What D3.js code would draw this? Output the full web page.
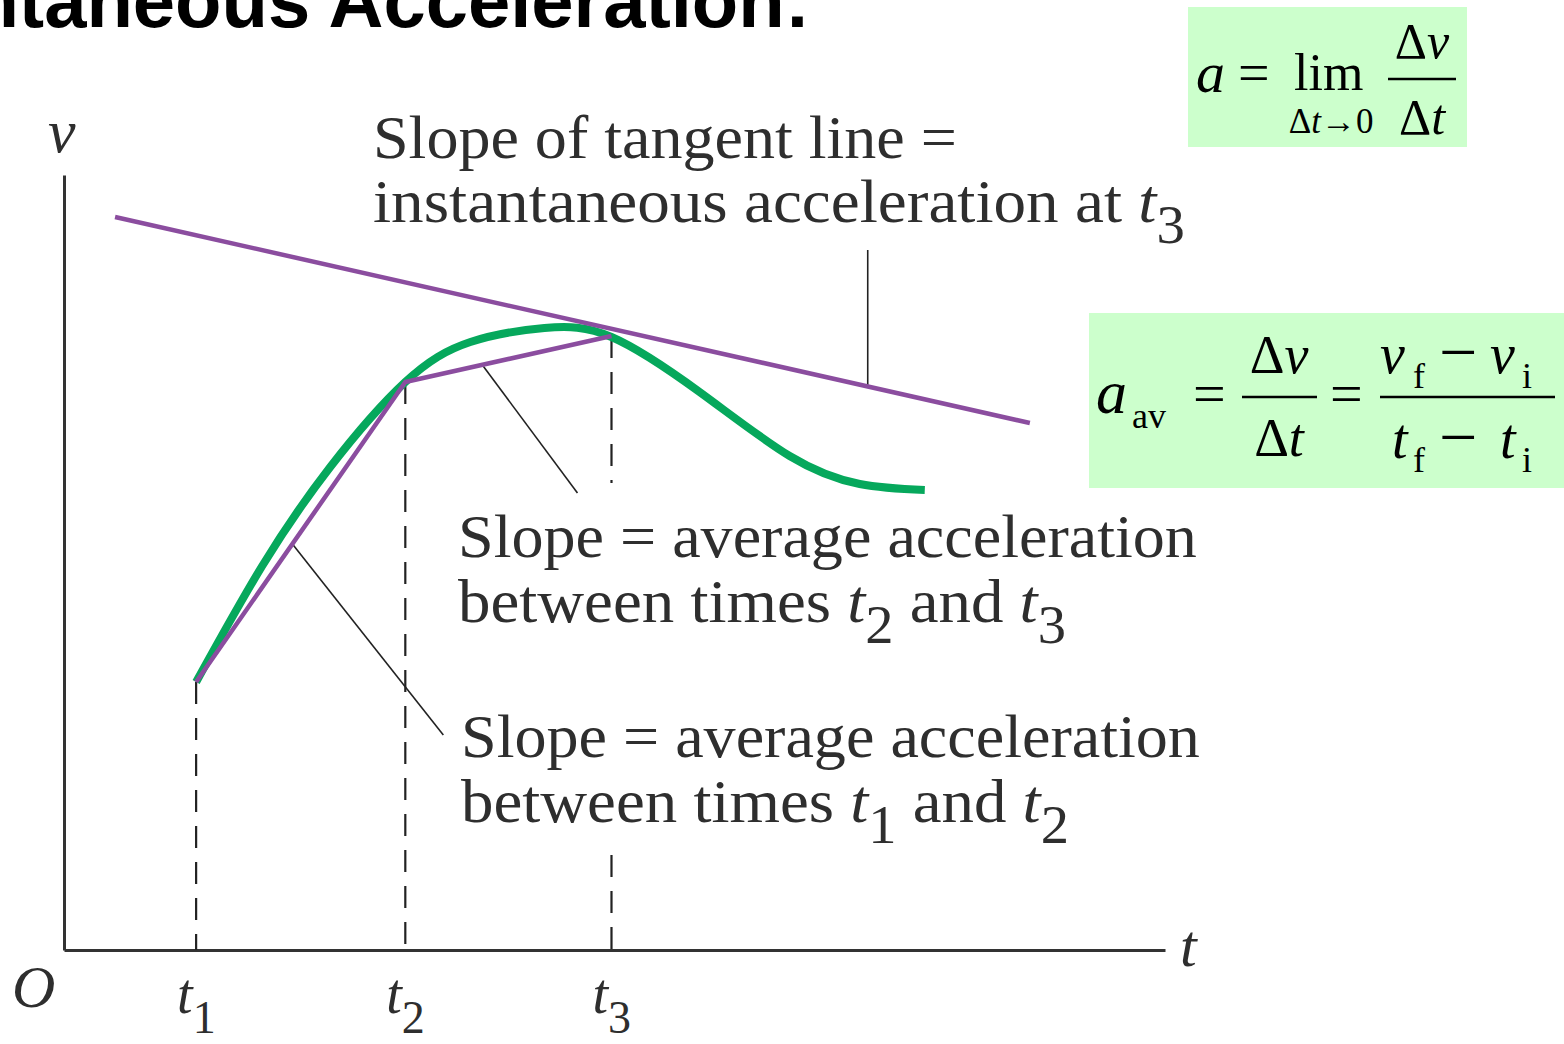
<!DOCTYPE html>
<html lang="en">
<head>
<meta charset="UTF-8">
<title>Instantaneous Acceleration</title>
<script src="https://cdn.jsdelivr.net/npm/d3@7"></script>
<style>
    body{ margin:0; background:#fff; }
    svg{ display:block; }
    .serif{ font-family:"Liberation Serif","Times New Roman",serif; fill:#2e2e2e; }
    .math{ font-family:"Liberation Serif","Times New Roman",serif; fill:#000; }
    .title{ font-family:"Liberation Sans",Arial,sans-serif; font-weight:bold; fill:#000; }
</style>
</head>
<body>
<svg id="canvas" width="1564" height="1044"></svg>
<script>
    // axis ranges (data units)
    let tDomain = [0, 11]
    let vDomain = [0, 7.75]

    // the green v(t) curve
    let curveT = [1.32, 1.98, 2.66, 3.41, 4.06, 4.80, 5.47, 6.35, 7.25, 7.95, 8.60]
    let curveV = [2.68, 3.84, 4.83, 5.68, 6.08, 6.22, 6.13, 5.58, 4.94, 4.66, 4.60]

    // marked times t1, t2, t3 and velocity there
    let markT = [1.32, 3.41, 5.47]
    let markV = [2.68, 5.68, 6.14]
    let tickSubs = ["1", "2", "3"]

    // tangent line at t3
    let tangentT = [0.51, 9.65]
    let tangentV = [7.33, 5.27]

    // leader lines from labels to lines
    let leaderT = [[8.03, 8.03], [4.18, 5.13], [2.29, 3.79]]
    let leaderV = [[7.00, 5.65], [5.85, 4.57], [4.05, 2.15]]

    // drop lines, v ranges that are drawn (gaps where text sits)
    let dropRanges = [[[2.68, 0]], [[5.68, 0]], [[6.14, 4.67], [0.95, 0]]]

    const svg = d3.select('#canvas')
    const x = d3.scaleLinear().domain(tDomain).range([64, 1165])
    const y = d3.scaleLinear().domain(vDomain).range([950, 175])

    // title (clipped on the left like the slide)
    svg.append("text").attr("class", "title")
        .attr("x", 810).attr("y", 27)
        .attr("text-anchor", "end")
        .style("font-size", "76px")
        .text("Instantaneous Acceleration:")

    // axes
    const xAxis = d3.axisBottom(x).tickValues([]).tickSizeOuter(0)
    const yAxis = d3.axisLeft(y).tickValues([]).tickSizeOuter(0)
    svg.append("g").attr("transform", `translate(0,${y(0)})`).call(xAxis)
        .select(".domain").attr("stroke", "#333").attr("stroke-width", 3)
    svg.append("g").attr("transform", `translate(${x(0)},0)`).call(yAxis)
        .select(".domain").attr("stroke", "#333").attr("stroke-width", 3)

    // dashed drop lines
    markT.forEach((t, i) => {
        dropRanges[i].forEach(r => {
            svg.append("line")
                .attr("x1", x(t)).attr("x2", x(t))
                .attr("y1", y(r[0])).attr("y2", y(r[1]))
                .attr("stroke", "#222").attr("stroke-width", 2.2)
                .attr("stroke-dasharray", "22,14")
        })
    })

    // leader lines
    leaderT.forEach((lt, i) => {
        svg.append("line")
            .attr("x1", x(lt[0])).attr("y1", y(leaderV[i][0]))
            .attr("x2", x(lt[1])).attr("y2", y(leaderV[i][1]))
            .attr("stroke", "#222").attr("stroke-width", 1.6)
    })

    // green curve
    let lineGen = d3.line().x(d => x(d[0])).y(d => y(d[1])).curve(d3.curveNatural)
    svg.append("path")
        .attr("d", lineGen(d3.zip(curveT, curveV)))
        .attr("fill", "none").attr("stroke", "#06a85c").attr("stroke-width", 8)

    // purple chords and tangent
    let straight = d3.line().x(d => x(d[0])).y(d => y(d[1]))
    svg.append("path")
        .attr("d", straight(d3.zip(markT, markV)))
        .attr("fill", "none").attr("stroke", "#8b4d9f").attr("stroke-width", 4.5)
        .attr("stroke-linejoin", "round")
    svg.append("path")
        .attr("d", straight(d3.zip(tangentT, tangentV)))
        .attr("fill", "none").attr("stroke", "#8b4d9f").attr("stroke-width", 4.5)

    // axis labels
    svg.append("text").attr("class", "serif")
        .attr("x", 48).attr("y", 152).style("font-size", "62px").style("font-style", "italic")
        .text("v")
    svg.append("text").attr("class", "serif")
        .attr("x", 1180).attr("y", 966).style("font-size", "60px").style("font-style", "italic")
        .text("t")
    svg.append("text").attr("class", "serif")
        .attr("x", 12).attr("y", 1007).style("font-size", "60px").style("font-style", "italic")
        .text("O")
    markT.forEach((t, i) => {
        let lab = svg.append("text").attr("class", "serif")
            .attr("x", x(t) - 19).attr("y", 1013).style("font-size", "56px")
        lab.append("tspan").style("font-style", "italic").text("t")
        lab.append("tspan").attr("dy", 20).style("font-size", "46px").text(tickSubs[i])
    })

    // annotation paragraphs
    function label(x0, y0, targetW, parts) {
        let g = svg.append("g")
        let txt = g.append("text").attr("class", "serif").style("font-size", "62px")
        let shift = 0
        parts.forEach(p => {
            let ts = txt.append("tspan").text(p.s)
            if (p.it) ts.style("font-style", "italic")
            if (p.sub) { ts.attr("dy", 21 - shift).style("font-size", "54px"); shift = 21 }
            else if (shift) { ts.attr("dy", -shift); shift = 0 }
        })
        let w = txt.node().getBBox().width
        g.attr("transform", `translate(${x0},${y0}) scale(${targetW / w},1)`)
    }
    label(373, 158, 584, [{s: "Slope of tangent line ="}])
    label(373, 222, 812, [{s: "instantaneous acceleration at "}, {s: "t", it: 1}, {s: "3", sub: 1}])
    label(458, 557, 739, [{s: "Slope = average acceleration"}])
    label(458, 622, 608, [{s: "between times "}, {s: "t", it: 1}, {s: "2", sub: 1}, {s: " and "}, {s: "t", it: 1}, {s: "3", sub: 1}])
    label(461, 757, 739, [{s: "Slope = average acceleration"}])
    label(461, 822, 608, [{s: "between times "}, {s: "t", it: 1}, {s: "1", sub: 1}, {s: " and "}, {s: "t", it: 1}, {s: "2", sub: 1}])

    // formula boxes
    function mtext(g, s, px, py, size, opt) {
        opt = opt || {}
        return g.append("text").attr("class", "math")
            .attr("x", px).attr("y", py)
            .attr("text-anchor", opt.anchor || "start")
            .style("font-size", size + "px")
            .style("font-style", opt.it ? "italic" : "normal")
            .text(s)
    }
    let f1 = svg.append("g")
    f1.append("rect").attr("x", 1188).attr("y", 7).attr("width", 279).attr("height", 140).attr("fill", "#ccffcc")
    mtext(f1, "a", 1196, 92, 58, {it: 1})
    mtext(f1, "=", 1238, 92, 56)
    mtext(f1, "lim", 1294, 90, 52)
    let sub1 = f1.append("text").attr("class", "math").attr("x", 1331).attr("y", 133)
        .attr("text-anchor", "middle").style("font-size", "35px")
    sub1.append("tspan").text("Δ")
    sub1.append("tspan").style("font-style", "italic").text("t")
    sub1.append("tspan").text("→0")
    f1.append("line").attr("x1", 1388).attr("x2", 1456).attr("y1", 79).attr("y2", 79)
        .attr("stroke", "#000").attr("stroke-width", 2.5)
    let n1 = f1.append("text").attr("class", "math").attr("x", 1422).attr("y", 58)
        .attr("text-anchor", "middle").style("font-size", "50px")
    n1.append("tspan").text("Δ")
    n1.append("tspan").style("font-style", "italic").text("v")
    let d1 = f1.append("text").attr("class", "math").attr("x", 1422).attr("y", 134)
        .attr("text-anchor", "middle").style("font-size", "50px")
    d1.append("tspan").text("Δ")
    d1.append("tspan").style("font-style", "italic").text("t")

    let f2 = svg.append("g")
    f2.append("rect").attr("x", 1089).attr("y", 313).attr("width", 475).attr("height", 175).attr("fill", "#ccffcc")
    mtext(f2, "a", 1096, 413, 62, {it: 1})
    mtext(f2, "av", 1132, 428, 36)
    mtext(f2, "=", 1193, 413, 58)
    f2.append("line").attr("x1", 1242).attr("x2", 1317).attr("y1", 397).attr("y2", 397)
        .attr("stroke", "#000").attr("stroke-width", 2.5)
    let n2 = f2.append("text").attr("class", "math").attr("x", 1279).attr("y", 373)
        .attr("text-anchor", "middle").style("font-size", "54px")
    n2.append("tspan").text("Δ")
    n2.append("tspan").style("font-style", "italic").text("v")
    let d2 = f2.append("text").attr("class", "math").attr("x", 1279).attr("y", 456)
        .attr("text-anchor", "middle").style("font-size", "54px")
    d2.append("tspan").text("Δ")
    d2.append("tspan").style("font-style", "italic").text("t")
    mtext(f2, "=", 1330, 413, 58)
    f2.append("line").attr("x1", 1380).attr("x2", 1555).attr("y1", 397).attr("y2", 397)
        .attr("stroke", "#000").attr("stroke-width", 2.5)
    mtext(f2, "v", 1380, 373, 56, {it: 1})
    mtext(f2, "f", 1413, 388, 36)
    mtext(f2, "\u2212", 1439, 375, 68)
    mtext(f2, "v", 1490, 373, 56, {it: 1})
    mtext(f2, "i", 1522, 388, 36)
    mtext(f2, "t", 1392, 458, 56, {it: 1})
    mtext(f2, "f", 1413, 472, 36)
    mtext(f2, "\u2212", 1439, 460, 68)
    mtext(f2, "t", 1500, 458, 56, {it: 1})
    mtext(f2, "i", 1522, 472, 36)
</script>
</body>
</html>
